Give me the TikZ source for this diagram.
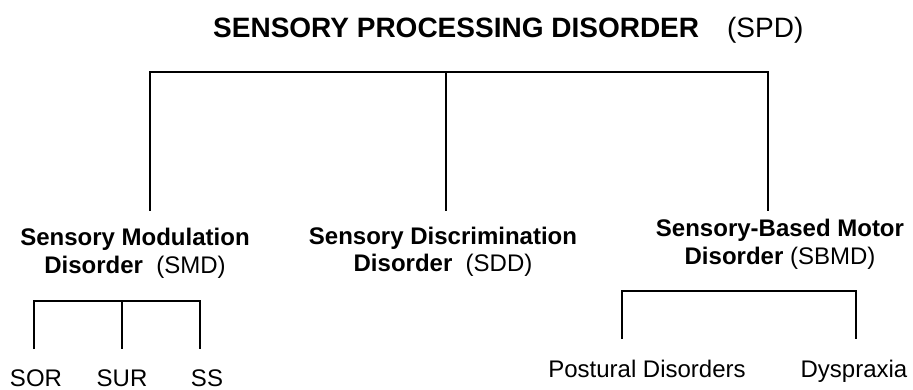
\documentclass[tikz,border=0pt]{standalone}
\usepackage{fontspec}
\setmainfont{Liberation Sans}
\usetikzlibrary{positioning}
\tikzset{branch/.style={line width=2pt}}
\tikzset{head/.style={font=\fontsize{24}{28}\selectfont, align=center, inner sep=0pt, anchor=base}}
\tikzset{leaf/.style={font=\fontsize{24}{28}\selectfont, inner sep=0pt, anchor=base}}

\begin{document}
\begin{tikzpicture}[x=1pt, y=-1pt]
  \useasboundingbox (0,0) rectangle (913,390);

  \node[inner sep=0pt, anchor=base west, font=\fontsize{28}{32}\selectfont] (spd) at (213,38)
  {\textbf{SENSORY PROCESSING DISORDER}\quad(SPD)};

  % second level
  \node[head] (smd) at (135,273) {\textbf{Sensory Modulation}\\\textbf{Disorder}~~(SMD)};
  \node[head] (sdd) at (443,272) {\textbf{Sensory Discrimination}\\\textbf{Disorder}~~(SDD)};
  \node[head] (sbmd) at (780,264) {\textbf{Sensory-Based~Motor}\\\textbf{Disorder}~(SBMD)};

  \coordinate (spd-bar) at (446,72);
  \coordinate (smd-in) at (150,211);
  \coordinate (sdd-in) at (446,211);
  \coordinate (sbmd-in) at (768,211);
  \draw[branch] (smd-in) |- (spd-bar) -| (sbmd-in);
  \draw[branch] (spd-bar) -- (sdd-in);

  % third level
  \node[leaf] (sor) at (36,386) {SOR};
  \node[leaf] (sur) at (122,386) {SUR};
  \node[leaf] (ss) at (207,386) {SS};
  \node[leaf] (post) at (647,377) {Postural Disorders};
  \node[leaf] (dys) at (854,377) {Dyspraxia};

  \coordinate (smd-bar) at (122,301);
  \coordinate (sor-in) at (34,349);
  \coordinate (sur-in) at (122,349);
  \coordinate (ss-in) at (200,349);
  \draw[branch] (sor-in) |- (smd-bar) -| (ss-in);
  \draw[branch] (smd-bar) -- (sur-in);

  \coordinate (sbmd-bar) at (739,291);
  \coordinate (post-in) at (622,339);
  \coordinate (dys-in) at (856,339);
  \draw[branch] (post-in) |- (sbmd-bar) -| (dys-in);

\end{tikzpicture}
\end{document}
